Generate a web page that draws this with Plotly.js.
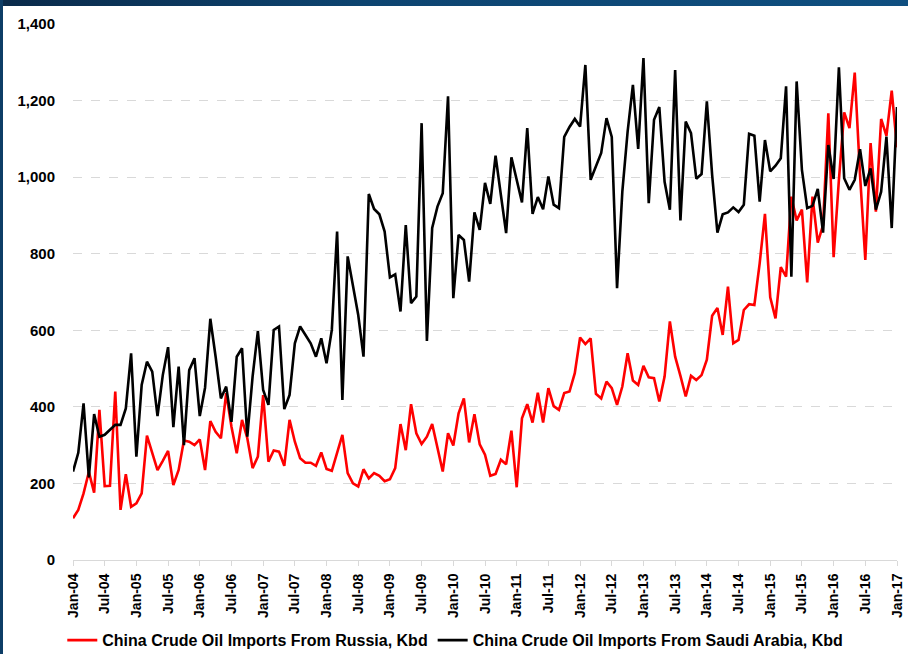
<!DOCTYPE html>
<html>
<head>
<meta charset="utf-8">
<script src="https://cdn.plot.ly/plotly-3.0.1.min.js"></script>
<style>
  html, body { margin: 0; padding: 0; background: #ffffff; }
  #wrap { position: relative; width: 908px; height: 654px; overflow: hidden; }
  #chart { position: absolute; left: 0; top: 0; width: 908px; height: 654px; }
  #topband { position: absolute; left: 0; top: 0; width: 908px; height: 6px;
             background: linear-gradient(to right, #0a2a4a, #0d4470 40%, #0f4f80 100%); }
  #leftband { position: absolute; left: 0; top: 0; width: 3px; height: 654px; background: #0d3d66; }
</style>
</head>
<body>
<div id="wrap">
  <div id="chart"></div>
  <div id="topband"></div>
  <div id="leftband"></div>
</div>
<script>
// Tick labels every six months, Jan-04 .. Jan-17
const tickLabels = ['Jan-04','Jul-04','Jan-05','Jul-05','Jan-06','Jul-06','Jan-07','Jul-07','Jan-08','Jul-08',
  'Jan-09','Jul-09','Jan-10','Jul-10','Jan-11','Jul-11','Jan-12','Jul-12','Jan-13','Jul-13',
  'Jan-14','Jul-14','Jan-15','Jul-15','Jan-16','Jul-16','Jan-17'];

// Monthly values, Jan-2004 .. Jan-2017 (Kbd)
const russia = [
  109, 131, 174, 230, 176, 392, 193, 194, 440, 131, 224, 139,
  148, 174, 325, 279, 235, 259, 285, 196, 235, 312, 309, 300,
  315, 235, 363, 335, 318, 436, 348, 279, 366, 318, 240, 270,
  431, 257, 286, 283, 246, 366, 309, 266, 254, 254, 246, 281,
  238, 233, 279, 327, 227, 200, 192, 237, 213, 227, 220, 206,
  211, 240, 355, 287, 407, 331, 303, 322, 355, 296, 231, 331,
  299, 383, 422, 307, 381, 302, 275, 220, 225, 262, 250, 338,
  190, 370, 407, 359, 437, 359, 449, 402, 392, 436, 440, 488,
  581, 564, 579, 434, 422, 466, 449, 405, 453, 540, 469, 457,
  507, 477, 475, 414, 479, 623, 531, 481, 427, 481, 470, 483,
  523, 638, 658, 588, 714, 566, 575, 653, 668, 666, 775, 904,
  686, 631, 765, 740, 949, 887, 915, 725, 949, 829, 875, 1167,
  791, 993, 1169, 1128, 1273, 1006, 784, 1089, 910, 1152, 1108, 1226,
  1078
];
const saudi = [
  231, 280, 409, 216, 381, 322, 327, 340, 353, 353, 396, 540,
  270, 457, 518, 492, 376, 483, 556, 347, 505, 300, 496, 527,
  376, 450, 630, 531, 422, 453, 361, 531, 553, 322, 479, 598,
  444, 405, 601, 610, 394, 431, 566, 610, 588, 566, 531, 579,
  514, 601, 858, 418, 793, 719, 640, 531, 956, 917, 903, 858,
  738, 746, 649, 875, 671, 688, 1141, 572, 867, 923, 958, 1211,
  684, 849, 836, 727, 908, 862, 985, 930, 1056, 954, 854, 1052,
  997, 934, 1128, 904, 948, 916, 1002, 928, 919, 1105, 1131, 1152,
  1132, 1293, 993, 1028, 1063, 1154, 1105, 710, 962, 1119, 1241, 1074,
  1311, 932, 1150, 1183, 988, 915, 1280, 887, 1145, 1115, 996, 1008,
  1198, 1006, 855, 903, 908, 921, 909, 928, 1113, 1108, 936, 1097,
  1015, 1030, 1049, 1237, 740, 1250, 1019, 919, 925, 969, 855, 1084,
  995, 1287, 997, 967, 993, 1073, 977, 1023, 915, 962, 1106, 867,
  1183
];
const seriesNames = ['China Crude Oil Imports From Russia, Kbd', 'China Crude Oil Imports From Saudi Arabia, Kbd'];

const monthIndex = russia.map((_, i) => i);
const tickVals = tickLabels.map((_, k) => k * 6);

const FONT = 'Liberation Sans, Arial, sans-serif';

const traces = [
  { x: monthIndex, y: russia, name: seriesNames[0], type: 'scatter', mode: 'lines',
    line: { color: '#ff0000', width: 2.6 } },
  { x: monthIndex, y: saudi, name: seriesNames[1], type: 'scatter', mode: 'lines',
    line: { color: '#000000', width: 2.6 } }
];

const layout = {
  width: 908, height: 654,
  margin: { l: 73, r: 11, t: 24, b: 94, autoexpand: false },
  paper_bgcolor: '#ffffff', plot_bgcolor: '#ffffff',
  font: { family: FONT, color: '#000000' },
  showlegend: true,
  legend: {
    orientation: 'h', x: -0.013, xanchor: 'left', y: -0.118, yanchor: 'top',
    font: { family: FONT, size: 16, weight: 'bold', color: '#000000' },
    itemwidth: 30, tracegroupgap: 0, bgcolor: 'rgba(0,0,0,0)'
  },
  xaxis: {
    range: [0, 156], tickmode: 'array', tickvals: tickVals, ticktext: tickLabels,
    tickangle: -90, ticks: 'outside', ticklen: 5, tickcolor: '#d9d9d9', tickwidth: 1,
    showline: true, linecolor: '#d9d9d9', linewidth: 1,
    showgrid: false, zeroline: false, fixedrange: true, automargin: false,
    tickfont: { family: FONT, size: 14, weight: 'bold', color: '#000000' },
    ticklabelstandoff: 2
  },
  yaxis: {
    range: [0, 1400], tickmode: 'array', tickvals: [0, 200, 400, 600, 800, 1000, 1200, 1400],
    tickformat: ',d', showgrid: true, gridcolor: '#d9d9d9', griddash: 'dash', gridwidth: 1,
    zeroline: false, showline: false, ticks: '', automargin: false,
    tickfont: { family: FONT, size: 15, weight: 'bold', color: '#000000' },
    ticklabelstandoff: 17, fixedrange: true
  }
};

Plotly.newPlot('chart', traces, layout, { displayModeBar: false, staticPlot: true });
</script>
</body>
</html>
